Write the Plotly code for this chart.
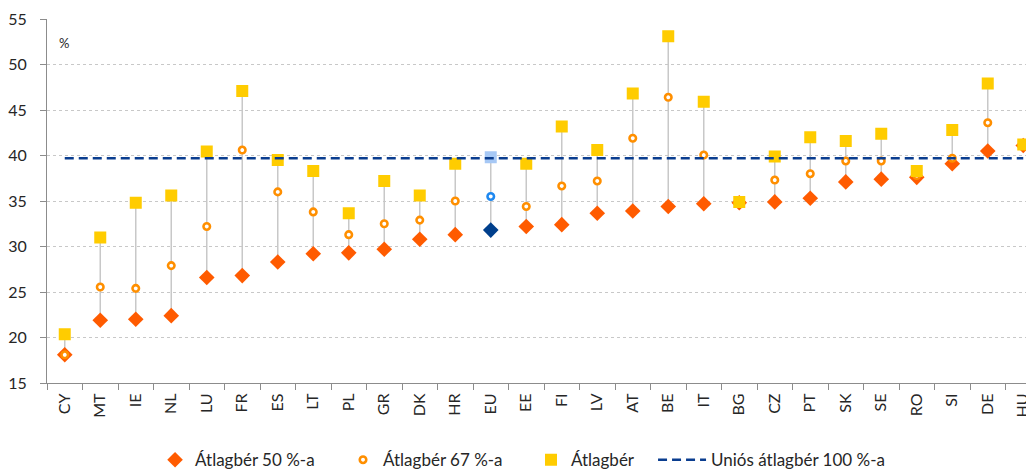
import plotly.graph_objects as go

categories = ["CY", "MT", "IE", "NL", "LU", "FR", "ES", "LT", "PL", "GR", "DK", "HR", "EU", "EE",
              "FI", "LV", "AT", "BE", "IT", "BG", "CZ", "PT", "SK", "SE", "RO", "SI", "DE", "HU"]
wage50 = [18.1, 21.9, 22.0, 22.4, 26.6, 26.8, 28.3, 29.2, 29.3, 29.7, 30.8, 31.3, 31.8, 32.2,
          32.4, 33.65, 33.9, 34.4, 34.7, 34.8, 34.9, 35.3, 37.1, 37.4, 37.6, 39.1, 40.5, 41.1]
wage67 = [18.1, 25.55, 25.4, 27.9, 32.2, 40.6, 36.0, 33.8, 31.3, 32.5, 32.9, 35.0, 35.5, 34.4,
          36.65, 37.2, 41.9, 46.4, 40.05, 34.85, 37.3, 38.0, 39.4, 39.4, 37.8, 39.7, 43.6, 41.1]
avgwage = [20.35, 31.0, 34.8, 35.6, 40.45, 47.1, 39.5, 38.3, 33.65, 37.2, 35.6, 39.1, 39.8, 39.1,
           43.2, 40.6, 46.8, 53.1, 45.9, 34.9, 39.9, 42.0, 41.6, 42.4, 38.3, 42.8, 47.9, 41.2]
eu_avg = 39.7
y_ticks = [15, 20, 25, 30, 35, 40, 45, 50, 55]
names = ["Átlagbér 50 %-a", "Átlagbér 67 %-a", "Átlagbér", "Uniós átlagbér 100 %-a"]

FONT = "Lato"
TXT = "#262626"
c50 = ["#003F8C" if c == "EU" else "#FF5B00" for c in categories]
c67 = ["#1E88F0" if c == "EU" else "#FF8F00" for c in categories]
cav = ["#A6C8F5" if c == "EU" else "#FFCC00" for c in categories]

# connector lines (min to max per category)
cx, cy = [], []
for c, a, b, d in zip(categories, wage50, wage67, avgwage):
    cx += [c, c, None]
    cy += [min(a, b, d), max(a, b, d), None]

fig = go.Figure()
fig.add_trace(go.Scatter(x=cx, y=cy, mode="lines", line=dict(color="#C8C8C8", width=1.5),
                         showlegend=False, hoverinfo="skip"))
fig.add_trace(go.Scatter(x=categories, y=wage50, mode="markers", name=names[0], legend="legend",
                         marker=dict(symbol="diamond", size=12, color=c50, line=dict(width=0))))
fig.add_trace(go.Scatter(x=categories, y=wage67, mode="markers", name=names[1], legend="legend2",
                         marker=dict(symbol="circle", size=6.5, color="white",
                                     line=dict(width=2.6, color=c67))))
fig.add_trace(go.Scatter(x=categories, y=avgwage, mode="markers", name=names[2], legend="legend3",
                         marker=dict(symbol="square", size=10, color=cav,
                                     line=dict(width=2, color=cav))))
fig.add_trace(go.Scatter(x=[categories[0], categories[-1]], y=[eu_avg, eu_avg], mode="lines",
                         name=names[3], legend="legend4",
                         line=dict(color="#0A3D8F", width=2.6, dash="9px,5px")))

fig.add_annotation(text="%", xref="paper", yref="y", x=0.01, y=52.4, showarrow=False,
                   xanchor="left", yanchor="middle", font=dict(size=13, color=TXT, family=FONT))

leg_common = dict(orientation="h", xanchor="left", y=-0.212, yanchor="middle",
                  font=dict(size=17, family=FONT, color=TXT), bgcolor="rgba(0,0,0,0)")
fig.update_layout(
    width=1034, height=470,
    margin=dict(l=39, r=1, t=11, b=95, autoexpand=False),
    paper_bgcolor="white", plot_bgcolor="white",
    font=dict(family=FONT, size=16, color=TXT),
    showlegend=True,
    legend=dict(x=0.1087, itemwidth=30, **leg_common),
    legend2=dict(x=0.2978, itemwidth=30, **leg_common),
    legend3=dict(x=0.4869, itemwidth=30, **leg_common),
    legend4=dict(x=0.6097, itemwidth=48, **leg_common),
)
fig.update_xaxes(type="category", categoryorder="array", categoryarray=categories,
                 range=[-0.5, 27.5], tickangle=-90, showgrid=False, automargin=False,
                 showline=True, linecolor="#8C8C8C", linewidth=1.2,
                 ticks="outside", ticklen=6, tickcolor="#8C8C8C", tickson="boundaries",
                 ticklabelstandoff=3,
                 tickfont=dict(size=16, family=FONT, color=TXT))
fig.update_yaxes(range=[15, 55], tickvals=y_ticks, showgrid=True, gridcolor="#C8C8C8",
                 griddash="dot", gridwidth=1, showline=True, linecolor="#8C8C8C", linewidth=1.2,
                 ticks="outside", ticklen=6, tickcolor="#8C8C8C", zeroline=False, automargin=False,
                 ticklabelstandoff=10,
                 tickfont=dict(size=16, family=FONT, color=TXT))

fig.write_html("out.html")
